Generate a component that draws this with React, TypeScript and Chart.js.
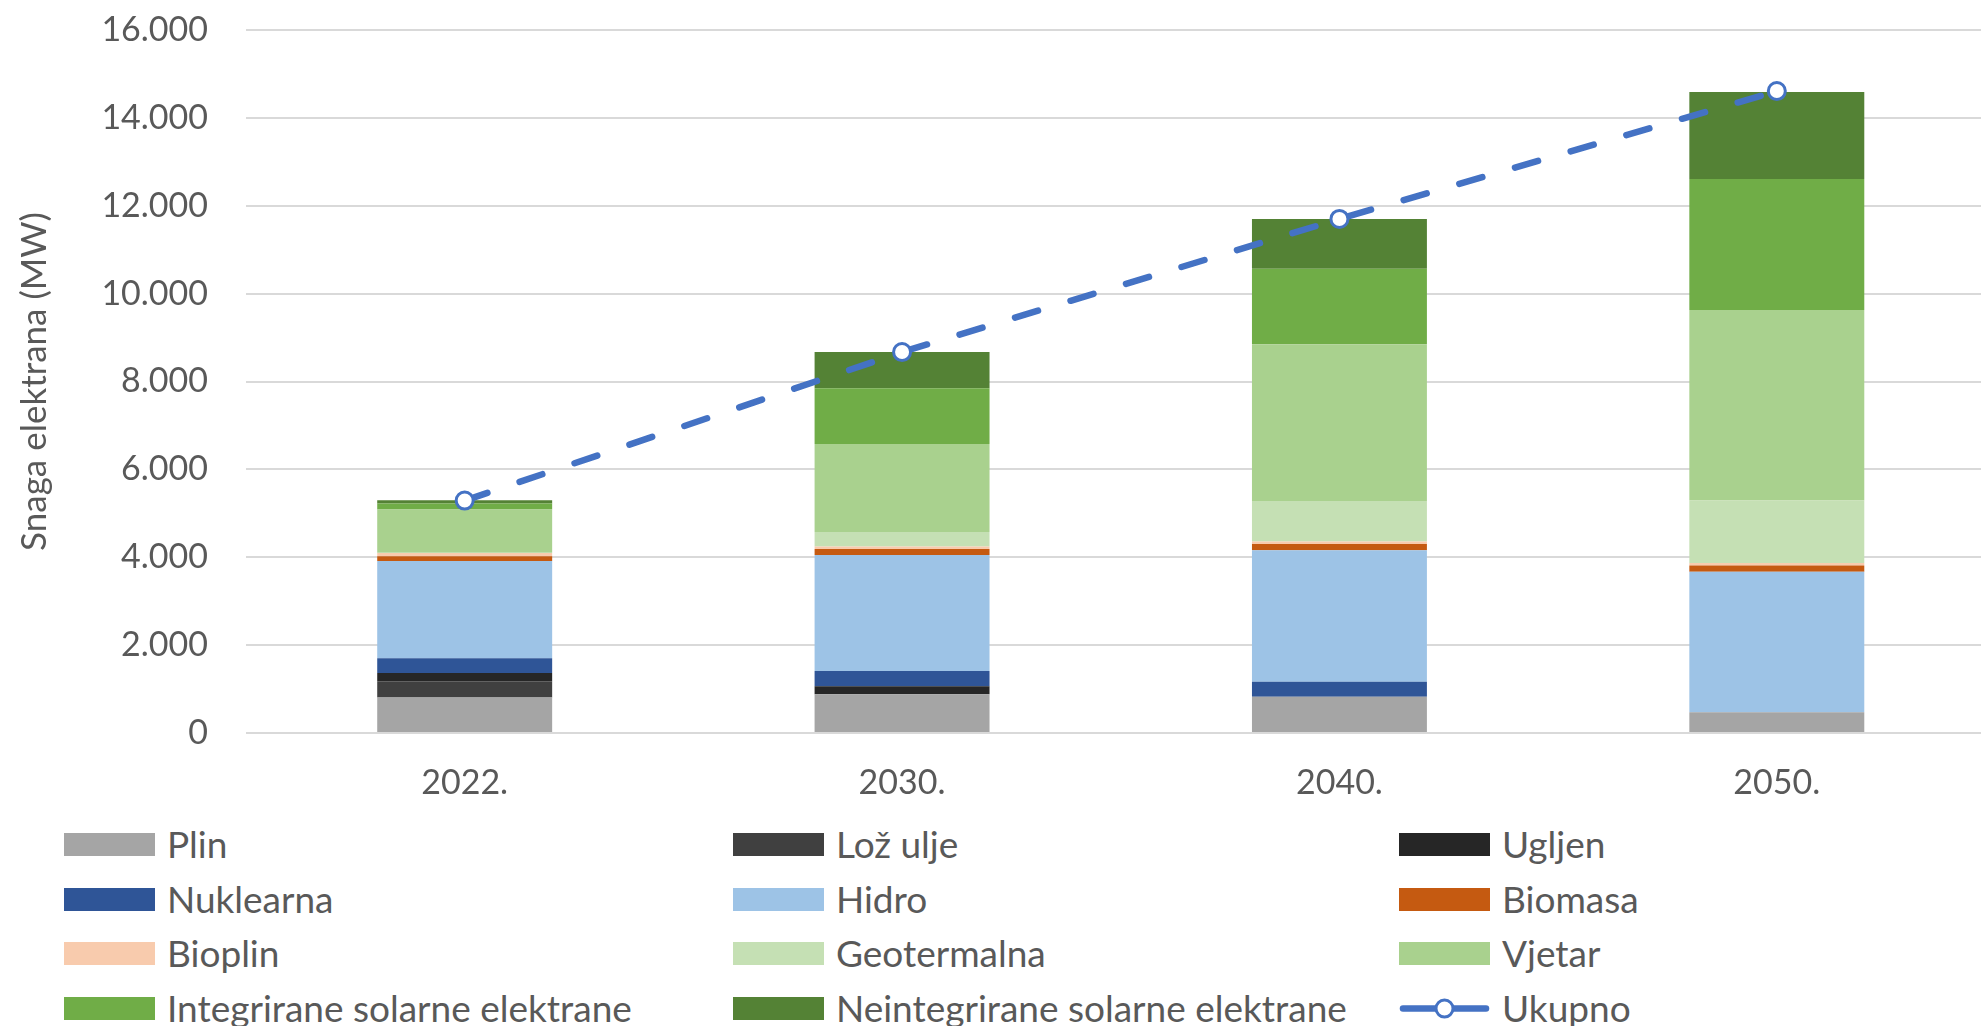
import React, { useEffect, useRef } from "react";
import { Chart, registerables } from "chart.js";

Chart.register(...registerables);

// ---- data ----
const categories = ["2022.", "2030.", "2040.", "2050."];
const plin = [810, 880, 824, 470];
const lozUlje = [365, 0, 0, 0];
const ugljen = [190, 183, 0, 0];
const nuklearna = [335, 349, 344, 0];
const hidro = [2215, 2639, 2992, 3200];
const biomasa = [107, 135, 144, 140];
const bioplin = [76, 61, 56, 60];
const geotermalna = [5, 326, 920, 1420];
const vjetar = [983, 2007, 3568, 4340];
const integrirane = [137, 1269, 1720, 2980];
const neintegrirane = [77, 821, 1128, 1980];
const ukupno = [5290, 8670, 11700, 14610];

const seriesNames = [
  "Plin",
  "Lož ulje",
  "Ugljen",
  "Nuklearna",
  "Hidro",
  "Biomasa",
  "Bioplin",
  "Geotermalna",
  "Vjetar",
  "Integrirane solarne elektrane",
  "Neintegrirane solarne elektrane",
];
const seriesValues = [
  plin,
  lozUlje,
  ugljen,
  nuklearna,
  hidro,
  biomasa,
  bioplin,
  geotermalna,
  vjetar,
  integrirane,
  neintegrirane,
];
const seriesColors = [
  "#A5A5A5",
  "#404040",
  "#262626",
  "#2F5597",
  "#9DC3E6",
  "#C55A11",
  "#F8CBAD",
  "#C5E0B4",
  "#A9D18E",
  "#70AD47",
  "#548235",
];
const totalName = "Ukupno";
const totalColor = "#4472C4";
const yAxisTitle = "Snaga elektrana (MW)";
const yMin = 0;
const yMax = 16000;
const yStep = 2000;

const FONT = "Lato";
const TEXT = "#595959";

const fmt = (v: number) => String(v).replace(/\B(?=(\d{3})+(?!\d))/g, ".");

export default function App() {
  const ref = useRef<HTMLCanvasElement | null>(null);

  useEffect(() => {
    document.documentElement.style.overflow = "hidden";
    document.body.style.margin = "0";
    document.body.style.overflow = "hidden";
    const canvas = ref.current;
    if (!canvas) return;

    const barSets = seriesNames.map((name, i) => ({
      type: "bar" as const,
      label: name,
      data: seriesValues[i],
      backgroundColor: seriesColors[i],
      borderWidth: 0,
      stack: "bars",
      order: 1,
      categoryPercentage: 1,
      barPercentage: 0.4,
    }));

    const chart = new Chart(canvas, {
      type: "bar",
      data: {
        labels: categories,
        datasets: [
          ...barSets,
          {
            type: "line" as const,
            label: totalName,
            data: ukupno,
            borderColor: totalColor,
            borderWidth: 6.5,
            borderDash: [24, 34],
            borderCapStyle: "round",
            pointRadius: 8.5,
            pointBorderWidth: 3,
            pointBackgroundColor: "#FFFFFF",
            pointBorderColor: totalColor,
            stack: "total",
            order: 0,
            tension: 0,
          } as any,
        ],
      },
      options: {
        responsive: false,
        animation: false,
        layout: { padding: { left: 0, right: 0, top: 30, bottom: 0 } },
        plugins: {
          legend: { display: false },
          tooltip: { enabled: false },
        },
        scales: {
          x: {
            stacked: true,
            grid: { display: false, drawTicks: false },
            border: { display: false },
            ticks: {
              color: TEXT,
              font: { family: FONT, size: 34 },
              padding: 30,
            },
            afterFit: (s: any) => {
              s.height = 70;
            },
          },
          y: {
            stacked: true,
            min: yMin,
            max: yMax,
            grid: {
              color: "#D9D9D9",
              lineWidth: 2,
              drawTicks: true,
              tickLength: 38,
              tickColor: "rgba(0,0,0,0)",
            },
            border: { display: false },
            ticks: {
              stepSize: yStep,
              color: TEXT,
              font: { family: FONT, size: 34 },
              padding: 0,
              callback: (v: any) => fmt(Number(v)),
            },
            title: {
              display: true,
              text: yAxisTitle,
              color: TEXT,
              font: { family: FONT, size: 35 },
              padding: { top: 14, bottom: 0 },
            },
            afterFit: (s: any) => {
              s.width = 246;
            },
          },
        },
      },
    });
    return () => chart.destroy();
  }, []);

  const legendItems = [...seriesNames, totalName];
  const colX = [64, 733, 1399];
  const rowY = [844, 899, 953, 1008];

  return (
    <div
      style={{
        position: "absolute",
        left: 0,
        top: 0,
        width: 1981,
        height: 1026,
        overflow: "hidden",
        background: "#FFFFFF",
      }}
    >
      <canvas
        ref={ref}
        width={2007}
        height={803}
        style={{ position: "absolute", left: 0, top: 0, width: 2007, height: 803 }}
      />
      {legendItems.map((name, i) => {
        const col = i % 3;
        const row = Math.floor(i / 3);
        const isLine = i === seriesNames.length;
        return (
          <div
            key={name}
            style={{
              position: "absolute",
              left: colX[col],
              top: rowY[row] - 22,
              height: 44,
              display: "flex",
              alignItems: "center",
              whiteSpace: "nowrap",
            }}
          >
            {isLine ? (
              <svg width={91} height={23} style={{ display: "block" }}>
                <line
                  x1={4}
                  y1={11.5}
                  x2={87}
                  y2={11.5}
                  stroke={totalColor}
                  strokeWidth={6.5}
                  strokeLinecap="round"
                />
                <circle cx={45.5} cy={11.5} r={8.5} fill="#FFFFFF" stroke={totalColor} strokeWidth={3} />
              </svg>
            ) : (
              <div style={{ width: 91, height: 23, background: seriesColors[i] }} />
            )}
            <span
              style={{
                marginLeft: 12,
                fontFamily: FONT,
                fontSize: 37,
                color: TEXT,
                lineHeight: "44px",
              }}
            >
              {name}
            </span>
          </div>
        );
      })}
    </div>
  );
}
